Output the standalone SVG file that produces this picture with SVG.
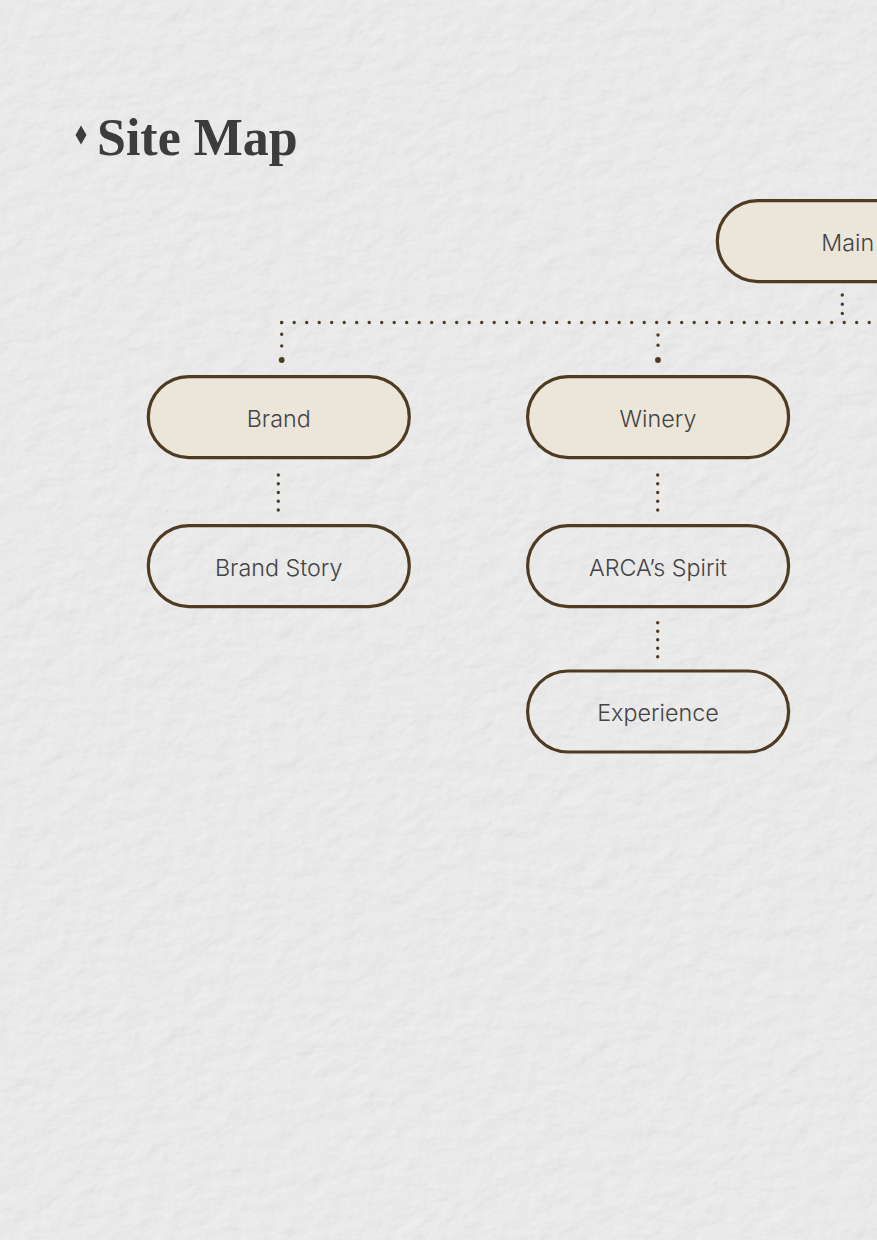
<svg xmlns="http://www.w3.org/2000/svg" width="877" height="1240" viewBox="0 0 877 1240">
  <defs>
    <filter id="paper" x="0" y="0" width="100%" height="100%">
      <feTurbulence type="fractalNoise" baseFrequency="0.045 0.06" numOctaves="4" seed="7" result="noise"/>
      <feDiffuseLighting in="noise" lighting-color="#f2f2f2" surfaceScale="1.4" result="lit">
        <feDistantLight azimuth="45" elevation="64"/>
      </feDiffuseLighting>
    </filter>
    <style>
      .node rect { stroke: #4f3b22; stroke-width: 3.2; }
      .parent rect { fill: #ece6da; }
      .child rect { fill: none; }
      .node text { font-family: Inter, "Noto Sans", "Liberation Sans", sans-serif; font-size: 23.3px; font-weight: 300; fill: #444444; text-anchor: middle; }
      .dots { stroke: #4f3b22; stroke-width: 3.4; stroke-linecap: round; fill: none; }
      .end { fill: #4f3b22; }
      .title { font-family: "Liberation Serif", "DejaVu Serif", serif; font-weight: bold; font-size: 52px; fill: #3c3c3e; }
    </style>
  </defs>

  <rect x="0" y="0" width="877" height="1240" fill="#ededed"/>
  <rect x="0" y="0" width="877" height="1240" filter="url(#paper)" opacity="0.5"/>

  <g id="title">
    <polygon points="81,125.5 86.5,135 81,144.5 75.5,135" fill="#3c3c3e"/>
    <text class="title" x="97" y="155">Site Map</text>
  </g>

  <g id="connectors">
    <line class="dots" x1="281.7" y1="322.5" x2="890" y2="322.5" stroke-dasharray="0 12.5"/>
    <line class="dots" x1="842.3" y1="295" x2="842.3" y2="314" stroke-dasharray="0 9.2"/>
    <line class="dots" x1="281.7" y1="322.5" x2="281.7" y2="346" stroke-dasharray="0 11.7"/>
    <circle class="end" cx="281.7" cy="360" r="2.9"/>
    <line class="dots" x1="658" y1="335" x2="658" y2="346" stroke-dasharray="0 10.3"/>
    <circle class="end" cx="658" cy="360" r="2.9"/>
    <line class="dots" x1="278.3" y1="475" x2="278.3" y2="511" stroke-dasharray="0 8.75"/>
    <line class="dots" x1="657.7" y1="475" x2="657.7" y2="511" stroke-dasharray="0 8.75"/>
    <line class="dots" x1="657.7" y1="622.7" x2="657.7" y2="657.5" stroke-dasharray="0 8.5"/>
  </g>

  <g id="node-main" class="node parent">
    <rect x="717.3" y="200.6" width="261" height="81" rx="40.5"/>
    <text x="847.7" y="250.5">Main</text>
  </g>
  <g id="node-brand" class="node parent">
    <rect x="148.3" y="376.6" width="261" height="81" rx="40.5"/>
    <text x="278.7" y="426.5">Brand</text>
  </g>
  <g id="node-winery" class="node parent">
    <rect x="527.6" y="376.6" width="261" height="81" rx="40.5"/>
    <text x="658" y="426.5">Winery</text>
  </g>
  <g id="node-brand-story" class="node child">
    <rect x="148.3" y="525.6" width="261" height="81" rx="40.5"/>
    <text x="278.7" y="575.5">Brand Story</text>
  </g>
  <g id="node-arcas-spirit" class="node child">
    <rect x="527.6" y="525.6" width="261" height="81" rx="40.5"/>
    <text x="658" y="575.5">ARCA’s Spirit</text>
  </g>
  <g id="node-experience" class="node child">
    <rect x="527.6" y="671" width="261" height="81" rx="40.5"/>
    <text x="658" y="720.5">Experience</text>
  </g>
</svg>
